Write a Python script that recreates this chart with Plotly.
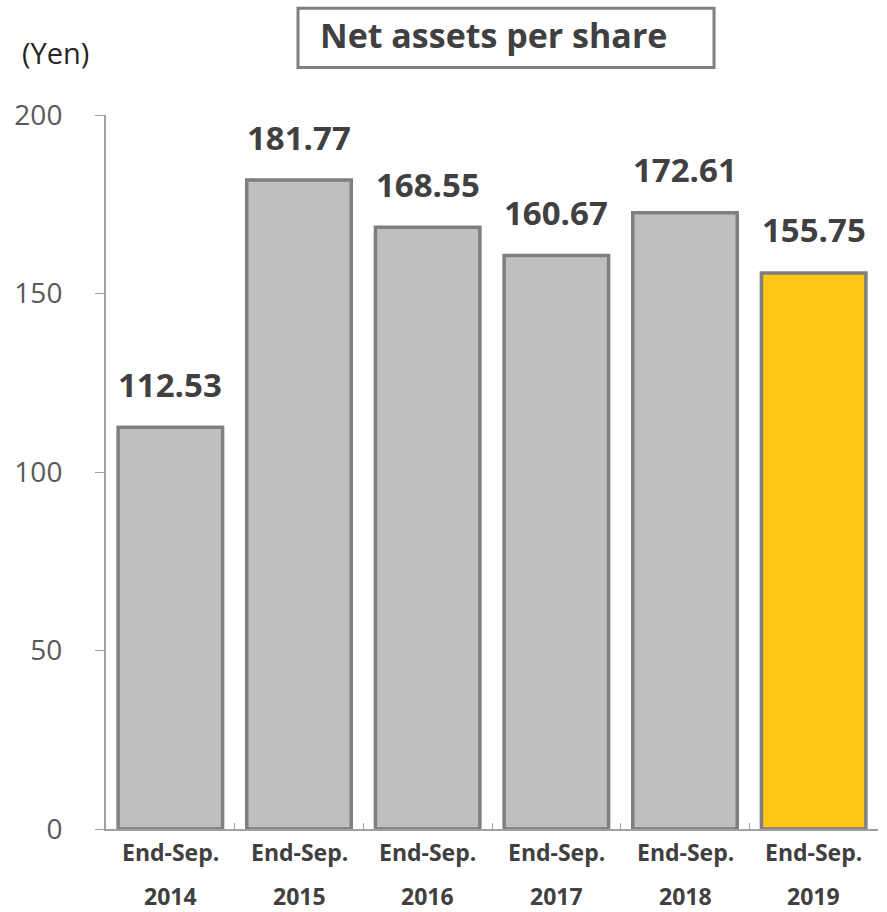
import plotly.graph_objects as go

# Net assets per share at fiscal year end (September)
periods = ["End-Sep.", "End-Sep.", "End-Sep.", "End-Sep.", "End-Sep.", "End-Sep."]
years = ["2014", "2015", "2016", "2017", "2018", "2019"]
values = [112.53, 181.77, 168.55, 160.67, 172.61, 155.75]
bar_colors = ["#bfbfbf", "#bfbfbf", "#bfbfbf", "#bfbfbf", "#bfbfbf", "#ffc61a"]
y_ticks = [0, 50, 100, 150, 200]

TEXT_DARK = "#404040"
TEXT_TICK = "#595959"
FONT = "Open Sans"

fig = go.Figure()
fig.add_trace(go.Bar(
    x=years,
    y=values,
    marker=dict(color=bar_colors, line=dict(color="#7f7f7f", width=3.5)),
    hoverinfo="skip",
))

# value labels above each bar (positions by category index)
for i, v in enumerate(values):
    fig.add_annotation(
        x=i, y=v, xref="x", yref="y",
        text=f"<b>{v:.2f}</b>", showarrow=False,
        yanchor="middle", yshift=43,
        font=dict(family=FONT, size=33, color=TEXT_DARK),
    )

# two-line category labels
for i, (p, yr) in enumerate(zip(periods, years)):
    fig.add_annotation(
        x=i, y=0, xref="x", yref="y", text=f"<b>{p}</b>", showarrow=False,
        yanchor="middle", yshift=-23,
        font=dict(family=FONT, size=23, color=TEXT_DARK),
    )
    fig.add_annotation(
        x=i, y=0, xref="x", yref="y", text=f"<b>{yr}</b>", showarrow=False,
        yanchor="middle", yshift=-67,
        font=dict(family=FONT, size=23, color=TEXT_DARK),
    )

# unit label
fig.add_annotation(
    x=-0.111, y=1.088, xref="paper", yref="paper", text="(Yen)", showarrow=False,
    xanchor="left", yanchor="middle",
    font=dict(family=FONT, size=29, color="#262626"),
)

# boxed title
fig.add_shape(
    type="rect", xref="paper", yref="paper",
    x0=0.2487, x1=0.7876, y0=1.0665, y1=1.1495,
    line=dict(color="#7f7f7f", width=3), fillcolor="white", layer="above",
)
fig.add_annotation(
    x=0.274, y=1.112, xref="paper", yref="paper", text="<b>Net assets per share</b>",
    showarrow=False, xanchor="left", yanchor="middle",
    font=dict(family=FONT, size=34, color=TEXT_DARK),
)

fig.update_layout(
    width=887, height=912,
    margin=dict(l=106, r=9, t=115, b=83),
    paper_bgcolor="white", plot_bgcolor="white",
    showlegend=False,
    bargap=0.188,
    xaxis=dict(
        type="category", categoryorder="array", categoryarray=years,
        range=[-0.5, len(years) - 0.5],
        showticklabels=False,
        showline=True, linecolor="#a0a0a0", linewidth=2,
        ticks="inside", tickson="boundaries", ticklen=6, tickcolor="#a0a0a0",
        showgrid=False, zeroline=False,
    ),
    yaxis=dict(
        range=[0, 200], tickvals=y_ticks,
        showline=True, linecolor="#a0a0a0", linewidth=2,
        ticks="outside", ticklen=9, tickcolor="#a0a0a0",
        ticklabelstandoff=27,
        tickfont=dict(family=FONT, size=28, color=TEXT_TICK),
        showgrid=False, zeroline=False,
    ),
)

fig.write_html("out.html")
